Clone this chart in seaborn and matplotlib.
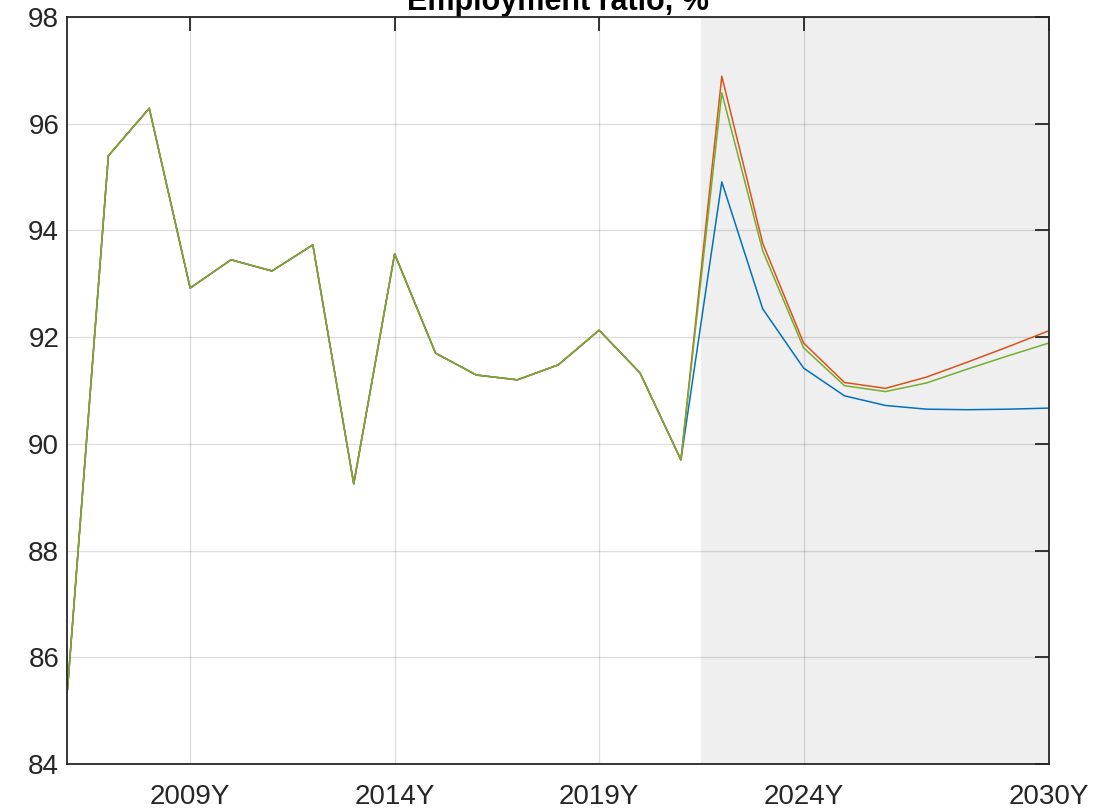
import numpy as np
import pandas as pd
import matplotlib
matplotlib.use('agg')
import matplotlib.pyplot as plt
import seaborn as sns

# --- data

years_hist = list(range(2006, 2022))
hist = [85.39, 95.40, 96.29, 92.92, 93.45, 93.24, 93.73, 89.25,
        93.56, 91.70, 91.29, 91.20, 91.48, 92.13, 91.33, 89.70]

years_fcst = list(range(2022, 2031))
blue_fcst = [94.91, 92.53, 91.42, 90.90, 90.72, 90.65, 90.64, 90.65, 90.67]
red_fcst = [96.89, 93.76, 91.89, 91.15, 91.04, 91.25, 91.53, 91.82, 92.12]
green_fcst = [96.58, 93.62, 91.80, 91.09, 90.98, 91.14, 91.40, 91.65, 91.89]

series_names = ["Scenario 1", "Scenario 2", "Scenario 3"]
series_colors = ["#0072BD", "#D95319", "#77AC30"]

xtick_years = [2009, 2014, 2019, 2024, 2030]
xtick_labels = ["2009Y", "2014Y", "2019Y", "2024Y", "2030Y"]
ytick_vals = [84, 86, 88, 90, 92, 94, 96, 98]

title = "Employment ratio, %"
shade_start = 2021.5

# --- build long table

frames = []
for name, fc in zip(series_names, [blue_fcst, red_fcst, green_fcst]):
    frames.append(pd.DataFrame({"year": years_hist + years_fcst,
                                "value": hist + fc,
                                "series": name}))
df = pd.concat(frames, ignore_index=True)

# --- plot

sns.set_style("white")
plt.rcParams['font.family'] = ['Liberation Sans', 'DejaVu Sans']

fig = plt.figure(figsize=(11.17, 8.11), dpi=100)
ax = fig.add_axes([0.0604, 0.058, 0.8787, 0.921])

ax.axvspan(shade_start, years_fcst[-1], color="#efefef", zorder=0, lw=0)

sns.lineplot(data=df, x="year", y="value", hue="series",
             palette=dict(zip(series_names, series_colors)),
             hue_order=series_names, linewidth=1.1, legend=False,
             estimator=None, ax=ax, zorder=3)

ax.set_xlim(years_hist[0], years_fcst[-1])
ax.set_ylim(ytick_vals[0], ytick_vals[-1])
ax.set_xticks(xtick_years)
ax.set_xticklabels(xtick_labels)
ax.set_yticks(ytick_vals)
ax.set_xlabel("")
ax.set_ylabel("")

ax.grid(True, color="k", alpha=0.13, linewidth=1.0, zorder=1)
ax.set_axisbelow(True)

for axis in ['top', 'bottom', 'left', 'right']:
    ax.spines[axis].set_linewidth(1.3)
    ax.spines[axis].set_color("#262626")
    ax.spines[axis].set_zorder(5)

ax.tick_params(axis='both', which='major', direction='in', length=10,
               width=1.3, color="#262626", labelsize=20,
               labelcolor="#262626", top=True, right=True)
ax.tick_params(axis='x', pad=14.5)
ax.tick_params(axis='y', pad=6)

ax.annotate(title, xy=(0.5, 1.0), xycoords='axes fraction',
            xytext=(0, 5), textcoords='offset points',
            ha='center', va='baseline', fontsize=22, fontweight='bold',
            color='k', annotation_clip=False)

plt.savefig("out.png", dpi=100)
print('Info:   ', 'Normal termination')
